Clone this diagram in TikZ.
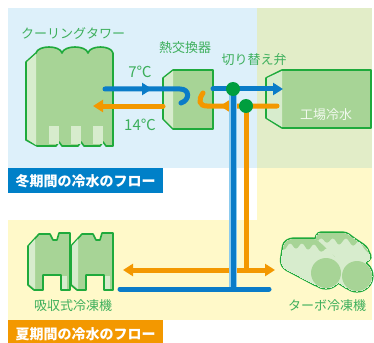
\documentclass[tikz,border=0pt]{standalone}
\usepackage{fontspec}
\setmainfont{Noto Sans CJK JP}
\usetikzlibrary{arrows.meta,decorations.markings,positioning}

\definecolor{winterBg}{HTML}{DDF0FA}
\definecolor{mixBg}{HTML}{E2EDC8}
\definecolor{summerBg}{HTML}{FFF9C9}
\definecolor{winterBlue}{HTML}{0080C8}
\definecolor{summerOrange}{HTML}{F39800}
\definecolor{pipeBlue}{HTML}{0A7CC8}
\definecolor{pipeHalo}{HTML}{8CCBEE}
\definecolor{pipeOrange}{HTML}{F39800}
\definecolor{unitLine}{HTML}{1FAA3C}
\definecolor{unitFill}{HTML}{A7D496}
\definecolor{unitLight}{HTML}{D7ECCD}
\definecolor{labelGreen}{HTML}{3DAF5C}
\definecolor{valveGreen}{HTML}{009E3E}

\begin{document}
\begin{tikzpicture}[x=1pt, y=-1pt,
    unit/.style={draw=unitLine, line width=1.6pt, fill=unitFill, line join=round},
    face/.style={fill=unitLight},
    tag/.style={text=labelGreen, font=\fontsize{13}{15}\selectfont, inner sep=0pt},
    bar/.style={anchor=north west, text=white, minimum width=155pt, minimum height=25pt, inner sep=0pt, font=\bfseries\fontsize{14}{16}\selectfont},
    cold/.style={color=pipeBlue, line width=5pt, line cap=round},
    hot/.style={color=pipeOrange, line width=5pt, line cap=round},
    arrowend/.style={-{Triangle[length=10pt, width=12pt]}},
    midtip/.style={postaction={decorate}, decoration={markings, mark=at position #1 with {\arrow{Triangle[length=10pt, width=12pt]}}}},
    valve/.style={circle, fill=valveGreen, minimum size=14pt, inner sep=0pt}
]
\useasboundingbox (0,0) rectangle (374,342);

% Background areas
\fill[winterBg] (8,8) rectangle (257,168);
\fill[mixBg] (257,8) rectangle (372,168);
\fill[summerBg] (257,168) rectangle (372,220);
\fill[summerBg] (8,220) rectangle (372,320);
\node[bar, fill=winterBlue] (winter) at (8,168) {冬期間の冷水のフロー};
\node[bar, fill=summerOrange, minimum height=30pt] (summer) at (8,320) {\raisebox{4pt}{夏期間の冷水のフロー}};

% Cooling tower
\filldraw[unit] (26,62) -- (36,53) .. controls (38,45) and (60,45) .. (62,53)
    .. controls (64,45) and (86,45) .. (88,53) .. controls (90,45) and (111,45) .. (113,53)
    -- (113,146) -- (106,146) -- (103,142) -- (100,146) -- (84,146) -- (81,142) -- (78,146)
    -- (62,146) -- (59,142) -- (56,146) -- (37,146) -- (26,140) -- cycle;
\fill[face] (27,62) -- (36,54) -- (36,145) -- (27,139) -- cycle;
\foreach \x in {49,71,93}
    \fill[face] (\x,126) rectangle ++(10,18);
\node[tag] (towerName) at (73,33) {クーリングタワー};

% Heat exchanger
\filldraw[unit] (163,78) -- (173,70) -- (213,70) -- (213,129) -- (173,129) -- (163,119) -- cycle;
\fill[face] (164,78) -- (173,71) -- (173,128) -- (164,119) -- cycle;
\node[tag] (hxName) at (185,48) {熱交換器};

% Plant load
\filldraw[unit] (266,78) -- (282,70) -- (371,70) -- (371,128) -- (282,128) -- (266,118) -- cycle;
\fill[face] (267,78) -- (282,71) -- (282,127) -- (267,118) -- cycle;
\node[tag, text=white!85!unitFill] (plantName) at (326,115) {工場冷水};

% Absorption chillers
\foreach \dx in {0,43} {
  \begin{scope}[shift={(28+\dx,233)}]
    \filldraw[unit] (0,13) -- (11,1) -- (22,1) -- (25,7) -- (29,7) -- (31,0) -- (42,0) -- (42,57)
        -- (33,57) -- (33,42) -- (15,42) -- (15,57) -- (6,57) -- (0,52) -- cycle;
    \fill[face] (1,13) -- (7,6) -- (7,56) -- (1,51) -- cycle;
    \fill[face] (34,43) rectangle (39,56);
  \end{scope}
}
\node[tag] (absName) at (73,306) {吸収式冷凍機};

% Turbo chillers: outline first, then fills on top
\begin{scope}[rounded corners=3pt]
  \foreach \lw/\col in {3.2pt/unitLine, 0pt/unitLight} {
    \filldraw[draw=\col, fill=\col, line width=\lw] (313,246) -- (318,233) -- (346,233) -- (354,239)
        -- (366,247) -- (371,258) -- (364,263) -- (349,289) -- (316,268) -- cycle;
    \filldraw[draw=\col, fill=\col, line width=\lw] (357,276) circle[radius=15];
    \filldraw[draw=\col, fill=\col, line width=\lw] (281,262) -- (284,243) -- (290,239) -- (316,239)
        -- (324,246) -- (337,259) -- (318,286) -- (284,268) -- cycle;
    \filldraw[draw=\col, fill=\col, line width=\lw] (326,273) circle[radius=15];
  }
  \begin{scope}
    \clip (313,246) -- (318,233) -- (346,233) -- (354,239) -- (366,247) -- (371,258) -- (364,263)
        -- (349,289) -- (316,268) -- cycle;
    \fill[unitFill] (310,228) -- (374,228) -- (374,258) -- (365,250) -- (359,240) -- (353,247)
        -- (346,237) -- (339,246) -- (333,237) -- (327,244) -- (321,237) -- (315,245) -- (310,240) -- cycle;
  \end{scope}
  \fill[unitFill] (357,276) circle[radius=15];
  \begin{scope}
    \clip (281,262) -- (284,243) -- (290,239) -- (316,239) -- (324,246) -- (337,259) -- (318,286)
        -- (284,268) -- cycle;
    \fill[unitLight] (281,262) -- (284,243) -- (290,239) -- (316,239) -- (324,246) -- (337,259)
        -- (318,286) -- (284,268) -- cycle;
    \fill[unitFill] (278,234) -- (330,234) -- (340,262) -- (334,256) -- (327,247) -- (321,253)
        -- (314,243) -- (308,251) -- (302,242) -- (296,250) -- (290,242) -- (284,251) -- (278,246) -- cycle;
  \end{scope}
  \fill[unitFill] (326,273) circle[radius=15];
\end{scope}
\node[tag] (turboName) at (327,306) {ターボ冷凍機};

% Pipe end points
\coordinate (towerCold) at (105,89);
\coordinate (hxColdIn) at (180,89);
\coordinate (hxColdOut) at (213,89);
\coordinate (plantCold) at (283,89);
\coordinate (plantHot) at (277,106);
\coordinate (hxHotIn) at (207,106);
\coordinate (hxHotOut) at (163,106);
\coordinate (towerHot) at (93,106);
\coordinate (coldDown) at (233,289);
\coordinate (hotDown) at (246,270);
\coordinate (absHot) at (123,270);
\coordinate (turboHot) at (275,270);
\coordinate (absCold) at (120,289);
\coordinate (turboCold) at (269,289);

% Warm return (orange)
\draw[hot, midtip=57pt] (plantHot) -- (hxHotIn) .. controls (199,106) and (198,100) .. (203,93);
\draw[hot, arrowend] (hxHotOut) -- (towerHot);
\draw[hot] (246,106) -- (hotDown);
\draw[hot, {Triangle[length=10pt, width=12pt]}-{Triangle[length=10pt, width=12pt]}] (absHot) -- (turboHot);

% Chilled supply (blue)
\draw[cold, midtip=47pt] (towerCold) -- (hxColdIn) .. controls (190,89) and (190,100) .. (181,103);
\draw[cold, arrowend] (hxColdOut) -- (plantCold);
\draw[cold, preaction={draw=pipeHalo, line width=7.4pt}] (233,89) -- (coldDown);
\draw[cold] (absCold) -- (turboCold);

% Change-over valves
\node[valve] (valveCold) at (233,89) {};
\node[valve] (valveHot) at (246,106) {};
\node[tag] (valveName) at (254,60) {切り替え弁};

% Temperatures
\node[tag, font=\fontsize{15}{17}\selectfont] (coldTemp) at (140,72) {7℃};
\node[tag, font=\fontsize{15}{17}\selectfont] (hotTemp) at (140,125) {14℃};
\end{tikzpicture}
\end{document}
